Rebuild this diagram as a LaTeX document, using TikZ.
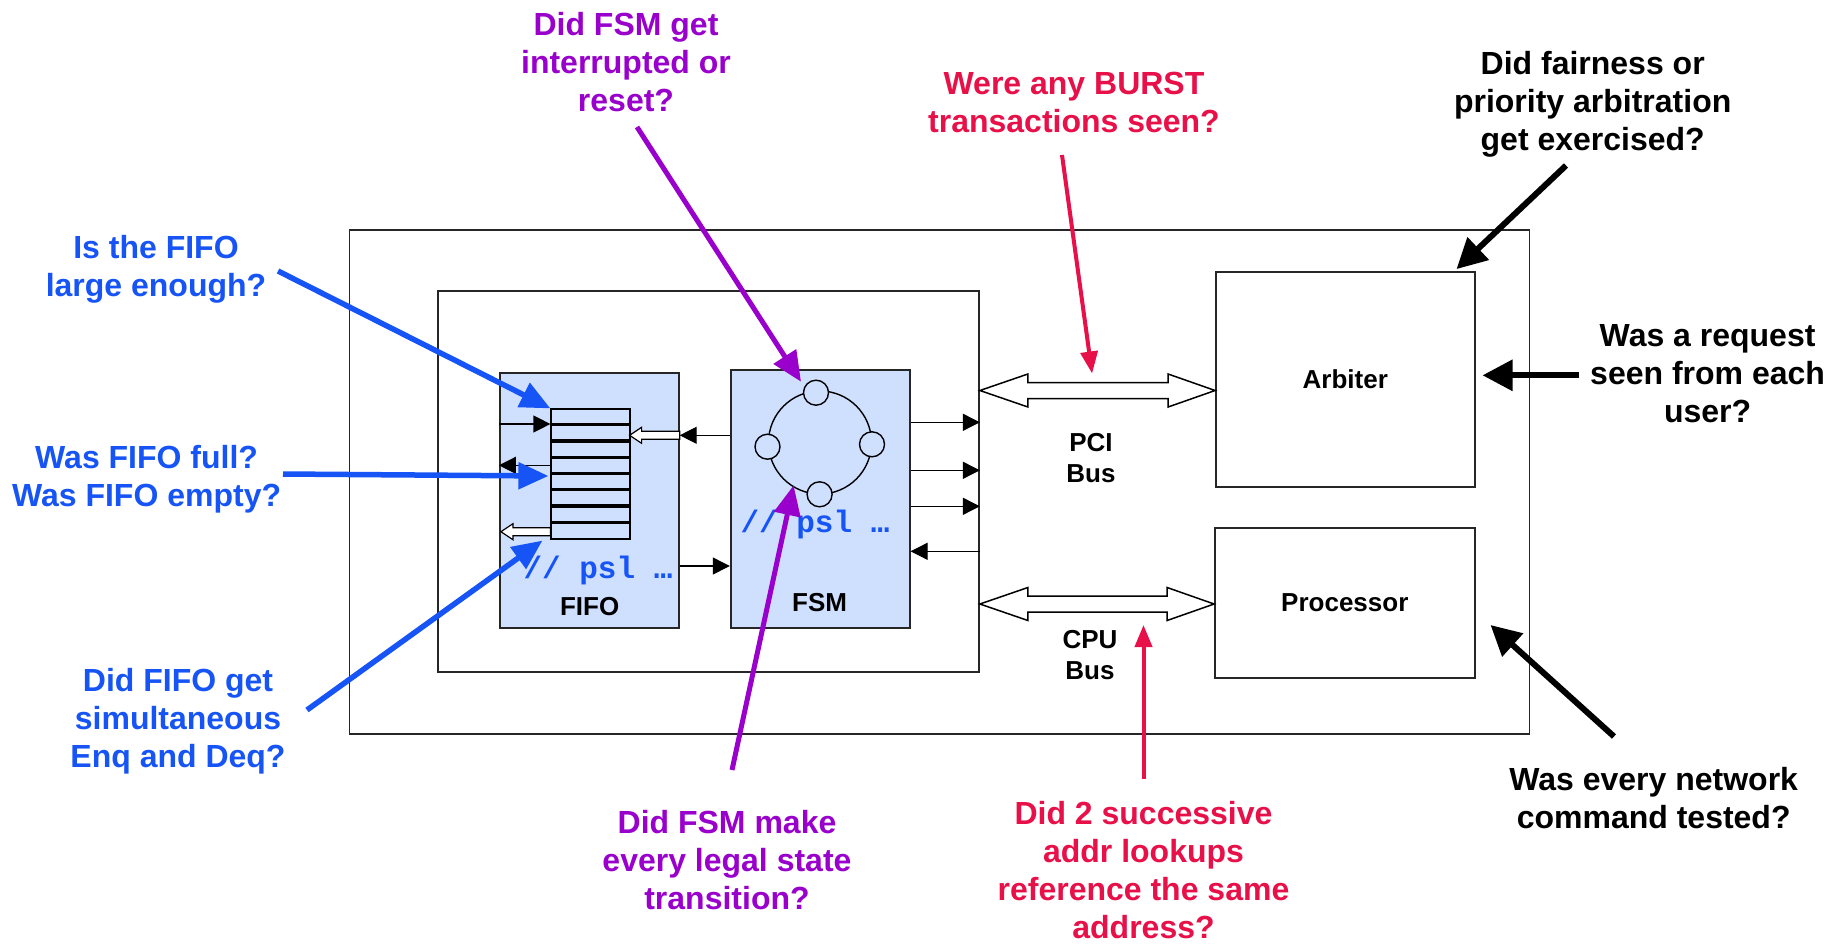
\documentclass[tikz,border=0pt]{standalone}
\usepackage{fontspec}
\setmainfont{Liberation Sans}
\newfontfamily\codefont{Liberation Mono}
\usetikzlibrary{arrows.meta,calc}

\definecolor{qblue}{RGB}{22,84,245}
\definecolor{qpurple}{RGB}{153,0,204}
\definecolor{qred}{RGB}{232,16,72}
\definecolor{blockfill}{RGB}{207,224,255}

% double-headed hollow bus arrow between two points on one horizontal line
\newcommand\drawbus[2]{%
  \draw[busline] (#1) -- ++(48,-16.5) -- ++(0,8.5) -- ($(#2)+(-47,-8)$)
    -- ++(0,-8.5) -- (#2) -- ++(-47,16.5) -- ++(0,-8.5)
    -- ($(#1)+(48,8)$) -- ++(0,8.5) -- cycle;}
% single hollow arrow pointing left, from tail #1 to tip #2
\newcommand\drawhollow[2]{%
  \draw[hollowline] (#2) -- ++(12,-8) -- ++(0,4) -- ($(#1)+(0,-4)$)
    -- ++(0,8) -- ($(#2)+(12,4)$) -- ++(0,4) -- cycle;}

\begin{document}
\begin{tikzpicture}[x=1pt,y=-1pt,
  question/.style={font=\fontsize{32}{38}\selectfont\bfseries, align=center, inner sep=0pt},
  boxlabel/.style={font=\fontsize{26}{31}\selectfont\bfseries, align=center, inner sep=0pt},
  code/.style={font=\fontsize{31}{31}\selectfont\codefont\bfseries, text=qblue, inner sep=0pt},
  framebox/.style={draw=black!85, line width=1.8pt, inner sep=0pt, fill=white},
  block/.style={draw=black!85, line width=1.8pt, inner sep=0pt, fill=blockfill},
  sig/.style={line width=1.2pt, -{Triangle[length=17pt,width=17pt]}},
  busline/.style={line width=1.5pt, fill=white, line join=miter},
  hollowline/.style={line width=1.2pt, fill=white, line join=miter},
  bluearrow/.style={qblue, line width=5.5pt, -{Triangle[length=30pt,width=26pt]}},
  purplearrow/.style={qpurple, line width=5pt, -{Triangle[length=30pt,width=26pt]}},
  redarrow/.style={qred, line width=4pt, -{Triangle[length=22pt,width=17pt]}},
  blackarrow/.style={black, line width=6pt, -{Triangle[length=30pt,width=30pt]}},
]
\useasboundingbox (0,0) rectangle (1839,943);

% system frame and sub-blocks
\node[framebox, minimum width=1180pt, minimum height=504pt] (outer) at (939.5,482) {};
\node[framebox, minimum width=541pt, minimum height=381pt] (inner) at (708.5,481.5) {};
\node[block, minimum width=179pt, minimum height=255pt] (fifo) at (589.3,500.2) {};
\node[block, minimum width=179pt, minimum height=258pt] (fsm) at (820.2,498.7) {};
\node[framebox, minimum width=258.6pt, minimum height=215pt] (arbiter) at (1345.3,379.5) {};
\node[framebox, minimum width=259.6pt, minimum height=150pt] (proc) at (1344.8,603) {};

\node[boxlabel] at (arbiter.center) {Arbiter};
\node[boxlabel] at (proc.center) {Processor};
\node[boxlabel] (pcilbl) at (1091,458) {PCI\\Bus};
\node[boxlabel] (cpulbl) at (1090,655) {CPU\\Bus};
\node[boxlabel] (fifolbl) at (589.6,607) {FIFO};
\node[boxlabel] (fsmlbl) at (819.6,603) {FSM};

% FIFO register stack
\node[draw, line width=1.2pt, fill=blockfill, minimum width=79pt, minimum height=130pt, inner sep=0pt] (stack) at (590.5,474) {};
\foreach \k in {1,...,7}
  \draw[line width=3.2pt] ($(stack.north west)+(0,16.25*\k)$) -- ($(stack.north east)+(0,16.25*\k)$);

% FSM state ring
\node[draw, line width=1.4pt, circle, minimum size=103pt, inner sep=0pt] (ring) at (820,442.5) {};
\foreach \n/\p in {s1/{(816,392.7)}, s2/{(767.5,446.7)}, s3/{(872,444.3)}, s4/{(819.6,494.3)}}
  \node[draw, line width=1.4pt, fill=blockfill, circle, minimum size=25pt, inner sep=0pt] (\n) at \p {};

\node[code] (fsmcode) at (815,524) {// psl …};
\node[code] (fifocode) at (598,570) {// psl …};

% signals inside the FIFO
\coordinate (fin) at (fifo.west |- 0,424);
\draw[sig] (fin) -- (stack.west |- fin);
\coordinate (fout) at (stack.west |- 0,465.3);
\draw[sig] (fout) -- (fifo.west |- fout);
\coordinate (hout) at (stack.west |- 0,531.7);
\drawhollow{hout}{$(fifo.west |- hout)+(2,0)$}
\coordinate (hin) at (fifo.east |- 0,435.3);
\drawhollow{hin}{$(stack.east |- hin)+(-1,0)$}

% signals between FIFO and FSM
\coordinate (f2a) at (fsm.west |- 0,435.3);
\draw[sig] (f2a) -- (fifo.east |- f2a);
\coordinate (f2b) at (fifo.east |- 0,566);
\draw[sig] (f2b) -- (fsm.west |- f2b);

% signals between FSM and the block boundary
\foreach \yy in {422.3,470.3,506.3}
  \draw[sig] (fsm.east |- 0,\yy) -- (inner.east |- 0,\yy);
\coordinate (fback) at (inner.east |- 0,551.3);
\draw[sig] (fback) -- (fsm.east |- fback);

% buses
\coordinate (pciL) at (inner.east |- 0,390.5);
\coordinate (pciR) at (arbiter.west |- 0,390.5);
\drawbus{pciL}{pciR}
\coordinate (cpuL) at (inner.east |- 0,604);
\coordinate (cpuR) at (proc.west |- 0,604);
\drawbus{cpuL}{cpuR}

% coverage questions
\node[question, text=qblue] (q1) at (156,269) {Is the FIFO\\large enough?};
\node[question, text=qblue] (q2) at (146.6,479.5) {Was FIFO full?\\Was FIFO empty?};
\node[question, text=qblue] (q3) at (178,721) {Did FIFO get\\simultaneous\\Enq and Deq?};
\node[question, text=qpurple] (q4) at (626,62) {Did FSM get\\interrupted or\\reset?};
\node[question, text=qpurple] (q5) at (727,860) {Did FSM make\\every legal state\\transition?};
\node[question, text=qred] (q6) at (1074,102) {Were any BURST\\transactions seen?};
\node[question, text=qred] (q7) at (1143.5,870) {Did 2 successive\\addr lookups\\reference the same\\address?};
\node[question] (q8) at (1592.7,104) {Did fairness or\\priority arbitration\\get exercised?};
\node[question] (q9) at (1707.6,374) {Was a request\\seen from each\\user?};
\node[question] (q10) at (1653.7,798) {Was every network\\command tested?};

% pointers from questions
\coordinate (a1) at (278,271);
\draw[bluearrow] (a1) -- (stack.north west);
\coordinate (a2) at (283,474);
\draw[bluearrow] (a2) -- ($(stack.west)+(-2,2)$);
\coordinate (a3) at (307,710);
\draw[bluearrow] (a3) -- ($(stack.south west)+(-8,1)$);
\coordinate (a4) at (637,127);
\draw[purplearrow] (a4) -- ($(s1)+(-15,-11)$);
\coordinate (a5) at (732,770);
\draw[purplearrow] (a5) -- ($(s4)+(-26,-9)$);
\coordinate (a6) at (1062,155);
\draw[redarrow] (a6) -- ($(pciL)!0.477!(pciR)+(0,-17)$);
\coordinate (a7) at (1143.5,779);
\draw[redarrow] (a7) -- (1143.5,625);
\coordinate (a8) at (1566,165.5);
\draw[blackarrow] (a8) -- ($(arbiter.north east)+(-19,-2)$);
\coordinate (a9) at (1579,375.3);
\draw[blackarrow] (a9) -- ($(arbiter.east |- a9)+(7,0)$);
\coordinate (a10) at (1614,736.5);
\draw[blackarrow] (a10) -- ($(proc.east)+(15,22)$);
\end{tikzpicture}
\end{document}
